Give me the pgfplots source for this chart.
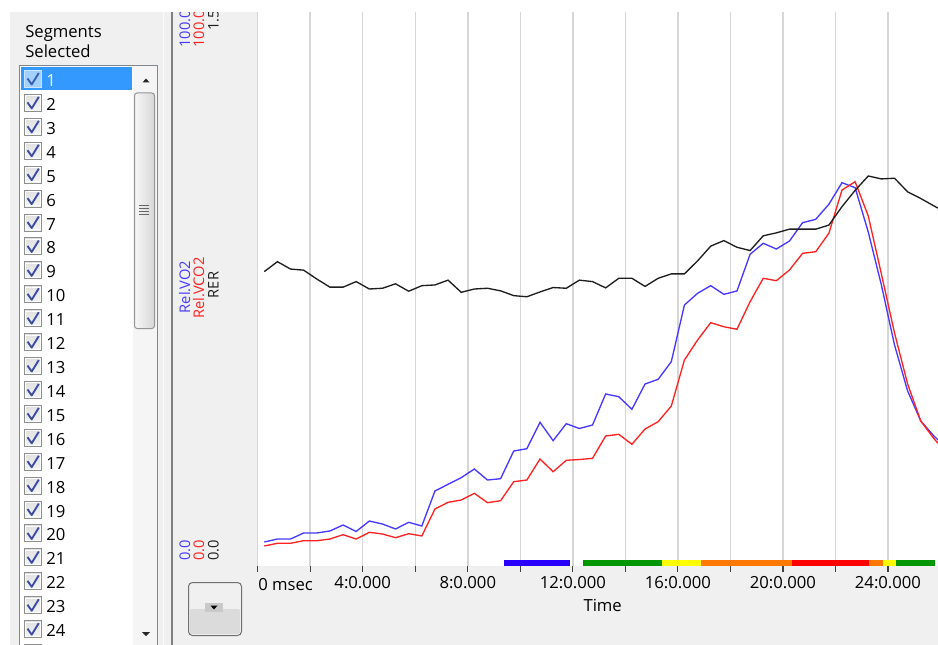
\documentclass[border=0pt]{standalone}
\usepackage{fontspec}
\setmainfont{Open Sans}
\usepackage{pgfplots}
\usepackage{pgfplotstable}
\pgfplotsset{compat=1.18}

\definecolor{uibg}{RGB}{240,240,240}
\definecolor{vo2}{RGB}{70,56,255}
\definecolor{vco2}{RGB}{255,34,34}
\definecolor{rer}{RGB}{30,30,30}
\definecolor{gridc}{RGB}{214,214,214}
\definecolor{sel}{RGB}{51,153,255}
\definecolor{chk}{RGB}{56,76,168}
\definecolor{cbborder}{RGB}{142,143,143}
\definecolor{lbborder}{RGB}{130,135,144}
\definecolor{segblue}{RGB}{40,0,255}
\definecolor{seggreen}{RGB}{0,150,0}
\definecolor{segyellow}{RGB}{255,255,0}
\definecolor{segorange}{RGB}{255,120,0}
\definecolor{segred}{RGB}{255,0,0}

% time in minutes, relative VO2 and VCO2 in %, RER
\pgfplotstableread{
t      vo2    vco2   rer
0.25   4.33   3.61   0.797
0.75   4.87   4.10   0.824
1.25   4.87   4.10   0.804
1.75   5.96   4.57   0.801
2.25   5.96   4.57   0.777
2.75   6.32   4.87   0.755
3.25   7.40   5.65   0.755
3.75   6.23   4.87   0.770
4.25   8.12   6.08   0.750
4.75   7.58   5.78   0.752
5.25   6.68   5.11   0.764
5.75   7.89   5.83   0.744
6.25   7.22   5.42   0.759
6.75   13.54  10.29  0.761
7.25   14.75  11.50  0.774
7.75   15.94  11.91  0.741
8.25   17.51  13.12  0.750
8.75   15.52  11.43  0.752
9.25   15.76  11.79  0.745
9.75   20.76  15.22  0.732
10.25  21.17  15.52  0.729
10.75  25.94  19.31  0.742
11.25  22.62  17.02  0.754
11.75  25.69  19.08  0.752
12.25  24.82  19.22  0.774
12.75  25.45  19.44  0.770
13.25  31.05  23.47  0.753
13.75  30.56  23.77  0.779
14.25  28.29  21.97  0.779
14.75  32.85  24.73  0.757
15.25  33.70  26.05  0.779
15.75  36.88  28.88  0.791
16.25  47.11  37.18  0.791
16.75  49.22  40.79  0.826
17.25  50.60  43.92  0.866
17.75  49.04  43.19  0.881
18.25  49.64  42.73  0.863
18.75  56.26  47.71  0.854
19.25  58.25  51.93  0.894
19.75  57.22  51.50  0.902
20.25  58.66  53.43  0.912
20.75  61.97  56.44  0.912
21.25  62.58  56.73  0.912
21.75  65.29  60.05  0.923
22.25  69.19  67.87  0.973
22.75  68.29  69.37  1.017
23.25  60.29  63.18  1.056
23.75  50.72  52.71  1.048
24.25  39.89  42.06  1.050
24.75  31.59  32.85  1.013
25.25  26.17  26.17  0.995
25.75  23.47  23.01  0.975
25.906 22.74  22.15  0.969
}\gasdata

\newcommand{\uifont}{\fontsize{12.5}{15}\selectfont}
\newcommand{\axfont}{\fontsize{11}{13}\selectfont}

\begin{document}
\begin{tikzpicture}
\path[use as bounding box] (0,0) rectangle (703.5pt,-483.75pt);
\clip (0,0) rectangle (703.5pt,-483.75pt);

% window background
\begin{scope}[x=0.75pt,y=-0.75pt]
  \fill[uibg] (0,0) rectangle (938,645);
  \fill[white] (0,0) rectangle (10,645);
\end{scope}

% relative gas exchange
\begin{axis}[
  at={(193.275pt,-424.5pt)}, anchor=south west,
  scale only axis, width=510.225pt, height=415.5pt,
  xmin=0, xmax=25.906, ymin=0, ymax=100,
  axis background/.style={fill=white},
  axis line style={draw=none},
  ytick=\empty,
  xtick={0,2,...,24},
  xticklabels={,,4:0.000,,8:0.000,,12:0.000,,16:0.000,,20:0.000,,24:0.000},
  xtick pos=bottom,
  xmajorgrids, grid style={gridc, line width=1.1pt},
  tick align=outside, major tick length=4.5pt,
  xtick style={draw=black!75, line width=0.9pt},
  x tick label style={font=\uifont},
]
\addplot[vo2, line width=1pt] table[x=t, y=vo2] {\gasdata};
\addplot[vco2, line width=1pt] table[x=t, y=vco2] {\gasdata};
% stage bars
\addplot[segblue, line width=4.3pt] coordinates {(9.39,0.5) (11.91,0.5)};
\addplot[seggreen, line width=4.3pt] coordinates {(12.40,0.5) (15.38,0.5)};
\addplot[segyellow, line width=4.3pt] coordinates {(15.38,0.5) (16.88,0.5)};
\addplot[segorange, line width=4.3pt] coordinates {(16.88,0.5) (20.36,0.5)};
\addplot[segred, line width=4.3pt] coordinates {(20.36,0.5) (23.29,0.5)};
\addplot[segorange, line width=4.3pt] coordinates {(23.29,0.5) (23.82,0.5)};
\addplot[segyellow, line width=4.3pt] coordinates {(23.82,0.5) (24.31,0.5)};
\addplot[seggreen, line width=4.3pt] coordinates {(24.31,0.5) (25.79,0.5)};
\end{axis}

% respiratory exchange ratio
\begin{axis}[
  at={(193.275pt,-424.5pt)}, anchor=south west,
  scale only axis, width=510.225pt, height=415.5pt,
  xmin=0, xmax=25.906, ymin=0, ymax=1.5,
  hide axis,
]
\addplot[rer, line width=1pt] table[x=t, y=rer] {\gasdata};
\end{axis}

\begin{scope}[x=0.75pt,y=-0.75pt, every node/.style={inner sep=0pt}]
  % separators
  \fill[white!97!gray] (162.5,0) rectangle (164,645);
  \fill[black!50] (170.5,0) rectangle (173,645);

  % segment list
  \node[anchor=base west, font=\uifont] at (25,37.3) {Segments};
  \node[anchor=base west, font=\uifont] at (25,57.3) {Selected};
  \draw[lbborder, fill=white, line width=0.75pt] (19.5,65.5) rectangle (157.5,670);
  \fill[sel] (21,67) rectangle (132,90.5);
  \foreach \i in {1,...,25} {
    \pgfmathsetmacro\yy{79+23.92*(\i-1)}
    \ifnum\i=1
      \draw[white!75!sel, line width=0.75pt, fill=white!55!sel] (24.5,\yy-8.5) rectangle (41.5,\yy+8.5);
      \draw[chk!75!sel, line width=1.4pt, line join=round] (27.5,\yy-0.5) -- (31.7,\yy+5.5) -- (38.8,\yy-6);
    \else
      \draw[cbborder, line width=0.75pt, top color=black!12, bottom color=black!4] (24.5,\yy-8.5) rectangle (41.5,\yy+8.5);
      \draw[white, line width=0.6pt] (25.8,\yy-7.2) rectangle (40.2,\yy+7.2);
      \draw[chk, line width=1.4pt, line join=round] (27.5,\yy-0.5) -- (31.7,\yy+5.5) -- (38.8,\yy-6);
    \fi
    \ifnum\i<25
      \ifnum\i=1
        \node[anchor=base west, font=\uifont, text=white] at (46,\yy+8) {\i};
      \else
        \node[anchor=base west, font=\uifont] at (46,\yy+7.5) {\i};
      \fi
    \fi
  }

  % scroll bar
  \fill[black!4] (133,66.5) rectangle (157,670);
  \fill[black!85] (142.5,82.5) -- (149.5,82.5) -- (146,78.5) -- cycle;
  \fill[black!85] (142,632) -- (150,632) -- (146,636) -- cycle;
  \draw[black!42, line width=0.75pt, rounded corners=2pt, left color=black!3, right color=black!16]
    (134.5,93) rectangle (154.5,328.5);
  \foreach \g in {205.5,208.5,211.5,214.5}
    \draw[black!60, line width=0.75pt] (139,\g) -- (149,\g);

  % dropdown button
  \draw[black!56, line width=0.75pt, rounded corners=3pt, fill=black!6] (188.5,582.5) rectangle (241.5,635.5);
  \fill[black!14, rounded corners=1.5pt] (190,609) rectangle (240,634);
  \fill[black!21] (205,603) rectangle (223,612);
  \fill[black] (210.5,605.5) -- (217.5,605.5) -- (214,609.5) -- cycle;

  % axis titles
  \node[rotate=90, anchor=base, font=\axfont, text=vo2] at (190,287) {Rel.VO2};
  \node[rotate=90, anchor=base, font=\axfont, text=vco2] at (204,288) {Rel.VCO2};
  \node[rotate=90, anchor=base, font=\axfont, text=rer] at (218.5,285) {RER};
  % axis ranges
  \node[rotate=90, anchor=base west, font=\axfont, text=vo2] at (190,561) {0.0};
  \node[rotate=90, anchor=base west, font=\axfont, text=vco2] at (204,561) {0.0};
  \node[rotate=90, anchor=base west, font=\axfont, text=rer] at (218.5,561) {0.0};
  \node[rotate=90, anchor=base east, font=\axfont, text=vo2] at (190,10) {100.0};
  \node[rotate=90, anchor=base east, font=\axfont, text=vco2] at (204,10) {100.0};
  \node[rotate=90, anchor=base east, font=\axfont, text=rer] at (218.5,10) {1.5};

  % time axis
  \node[anchor=base west, font=\uifont] at (258,590) {0 msec};
  \node[anchor=base, font=\uifont] at (602.7,611.7) {Time};

  \fill[white] (0,0) rectangle (938,12);
\end{scope}
\end{tikzpicture}
\end{document}
